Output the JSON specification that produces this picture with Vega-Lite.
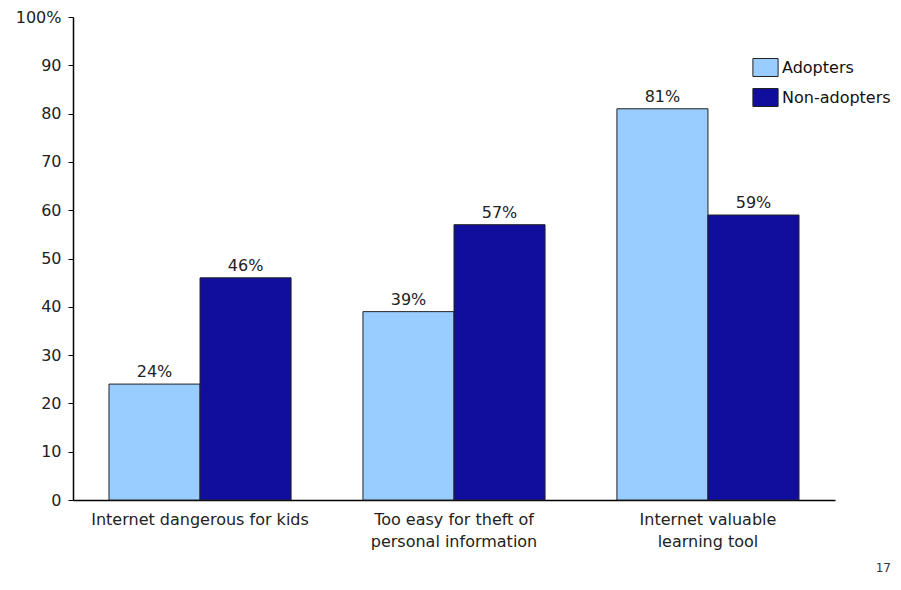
{
  "$schema": "https://vega.github.io/schema/vega-lite/v6.json",
  "autosize": "none",
  "width": 762,
  "height": 483,
  "padding": {"left": 73, "top": 17, "right": 66, "bottom": 90},
  "background": "white",
  "config": {
    "font": "DejaVu Sans",
    "view": {"stroke": null}
  },
  "title": {
    "text": "17",
    "orient": "bottom",
    "anchor": "end",
    "fontSize": 12,
    "fontWeight": "normal",
    "color": "#333333",
    "font": "DejaVu Sans",
    "offset": 14,
    "dx": 0
  },
  "data": {
    "values": [
      {"cat": "Internet dangerous for kids", "group": "Adopters", "value": 24},
      {"cat": "Internet dangerous for kids", "group": "Non-adopters", "value": 46},
      {"cat": "Too easy for theft of|personal information", "group": "Adopters", "value": 39},
      {"cat": "Too easy for theft of|personal information", "group": "Non-adopters", "value": 57},
      {"cat": "Internet valuable|learning tool", "group": "Adopters", "value": 81},
      {"cat": "Internet valuable|learning tool", "group": "Non-adopters", "value": 59}
    ]
  },
  "encoding": {
    "x": {
      "field": "cat",
      "type": "nominal",
      "sort": null,
      "scale": {"paddingInner": 0.283, "paddingOuter": 0.1417},
      "axis": {
        "title": null,
        "labelAngle": 0,
        "ticks": false,
        "labelLimit": 0,
        "labelExpr": "split(datum.label, '|')",
        "labelFontSize": 16,
        "labelColor": "#222222",
        "labelPadding": 11,
        "labelLineHeight": 22,
        "domainColor": "#000000",
        "domainWidth": 1.5
      }
    },
    "xOffset": {"field": "group", "type": "nominal", "sort": ["Adopters", "Non-adopters"]},
    "y": {
      "field": "value",
      "type": "quantitative",
      "scale": {"domain": [0, 100], "nice": false},
      "axis": {
        "title": null,
        "values": [0, 10, 20, 30, 40, 50, 60, 70, 80, 90, 100],
        "labelExpr": "datum.value == 100 ? '100%' : datum.label",
        "grid": false,
        "labelFontSize": 16,
        "labelColor": "#222222",
        "tickColor": "#000000",
        "tickSize": 5,
        "labelPadding": 7,
        "domainColor": "#000000",
        "domainWidth": 1.5
      }
    }
  },
  "layer": [
    {
      "mark": {"type": "bar", "stroke": "#222222", "strokeWidth": 1},
      "encoding": {
        "color": {
          "field": "group",
          "type": "nominal",
          "scale": {"domain": ["Adopters", "Non-adopters"], "range": ["#99CCFF", "#110E9E"]},
          "legend": {
            "title": null,
            "orient": "none",
            "legendX": 683,
            "legendY": 41,
            "symbolType": "M-1.4,-1H1.4V1H-1.4Z",
            "symbolSize": 324,
            "symbolStrokeColor": "#222222",
            "symbolStrokeWidth": 1,
            "symbolOpacity": 1,
            "labelFontSize": 16,
            "labelColor": "#111111",
            "rowPadding": 7,
            "labelOffset": 7
          }
        }
      }
    },
    {
      "mark": {"type": "text", "dy": -12, "fontSize": 16, "color": "#222222", "text": {"expr": "datum.value + '%'"}},
      "encoding": {}
    }
  ]
}
